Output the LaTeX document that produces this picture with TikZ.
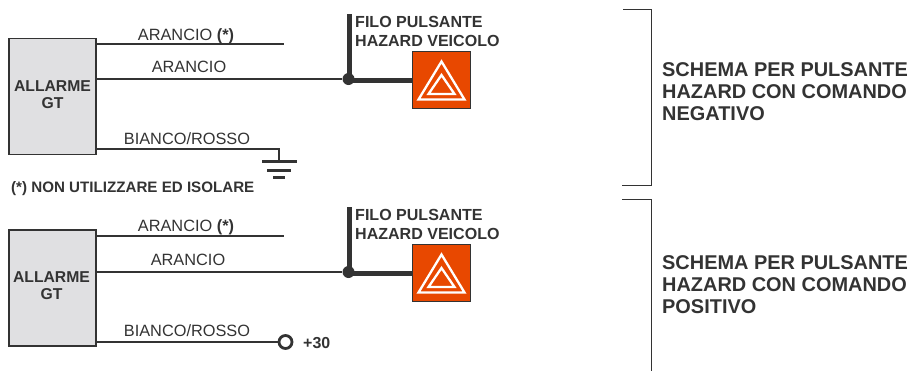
\documentclass[tikz,border=0pt]{standalone}
\usepackage{fontspec}
\setmainfont{Liberation Sans}
\definecolor{ink}{HTML}{333333}
\definecolor{alarmgrey}{HTML}{E0E0E2}
\definecolor{hazard}{HTML}{E84800}
\tikzset{
  wire/.style={draw=ink,line width=1.1bp},
  thickwire/.style={draw=ink,line width=4.2bp},
  brace/.style={draw=ink,line width=0.9bp},
  alarmbox/.style={draw=ink,line width=1.1bp,fill=alarmgrey,minimum width=87bp,minimum height=116bp,inner sep=0pt,outer sep=0pt,anchor=north west},
  boxlabel/.style={align=center,font=\fontsize{15.8}{17}\selectfont\bfseries,text=ink,inner sep=0pt},
  wirelabel/.style={font=\fontsize{16.4}{18}\selectfont,text=ink,inner sep=0pt,anchor=base},
  filolabel/.style={align=left,font=\fontsize{16.1}{19}\selectfont\bfseries,text=ink,inner sep=0pt,anchor=north west},
  schemalabel/.style={align=left,font=\fontsize{20}{22.5}\selectfont\bfseries,text=ink,inner sep=0pt,anchor=north west},
  hazbox/.style={draw=ink,line width=1bp,fill=hazard,minimum width=58bp,minimum height=57bp,inner sep=0pt,outer sep=0pt,anchor=north west},
  joint/.style={circle,fill=ink,minimum size=12bp,inner sep=0pt},
  ringend/.style={circle,draw=ink,line width=2.8bp,fill=white,minimum size=13bp,inner sep=0pt},
  tri/.style={draw=white,line width=2.3bp,miter limit=10,line join=miter},
}
\begin{document}
\begin{tikzpicture}[x=1bp,y=-1bp]
\useasboundingbox (0,0) rectangle (912,371);
% upper scheme
\node[alarmbox] (a1) at (9,38.5) {};
\node[boxlabel] (a1t) at (52.5,94.5) {ALLARME\\GT};
\coordinate (e1) at (284,44);
\coordinate (j1s) at (96,79);
\node[joint] (j1) at (348.5,79) {};
\coordinate (g1) at (279,149);
\coordinate (g1b) at (279,161);
\draw[wire] (96,44) -- (e1);
\draw[wire] (j1s) -- (j1);
\draw[wire] (96,149) -- (g1) -- (g1b);
\coordinate (g1a) at (262,161.5); \coordinate (g1c) at (297,161.5);
\coordinate (g2a) at (267,170.5); \coordinate (g2c) at (291,170.5);
\coordinate (g3a) at (273,177.5); \coordinate (g3c) at (285,177.5);
\draw[draw=ink,line width=2.6bp] (g1a) -- (g1c) (g2a) -- (g2c) (g3a) -- (g3c);
\node[wirelabel] (l1) at (186,40) {ARANCIO \textbf{(*)}};
\node[wirelabel] (l2) at (189,72) {ARANCIO};
\node[wirelabel] (l3) at (187,144) {BIANCO/ROSSO};
\node[font=\fontsize{15.2}{16}\selectfont\bfseries,text=ink,inner sep=0pt,anchor=base west] (n) at (11,192) {(*) NON UTILIZZARE ED ISOLARE};
\coordinate (v1) at (349.5,14);
\draw[thickwire] (v1) -- (v1 |- j1);
\node[filolabel] (f1) at (355,16) {FILO PULSANTE\\HAZARD VEICOLO};
\node[hazbox] (h1) at (412.5,51.5) {};
\coordinate (k1) at (348.5,80.5);
\draw[thickwire] (k1) -- (h1.west |- k1);
\draw[tri] (441.5,61.5) -- (464.5,99.5) -- (418.5,99.5) -- cycle;
\draw[tri] (441.5,75) -- (454.5,94) -- (428.5,94) -- cycle;
\draw[brace] (623,9) -- (651,9) -- (651,185) -- (622,185);
\node[schemalabel] (s1) at (662,62) {SCHEMA PER PULSANTE\\HAZARD CON COMANDO\\NEGATIVO};
% lower scheme
\node[alarmbox] (a2) at (9,230) {};
\node[boxlabel] (a2t) at (51.5,286) {ALLARME\\GT};
\coordinate (e2) at (284,236);
\node[joint] (j2) at (348.5,272) {};
\draw[wire] (96,236) -- (e2);
\draw[wire] (96,272) -- (j2);
\node[ringend] (r) at (285.5,342) {};
\draw[wire] (96,342) -- (r);
\node[font=\fontsize{16}{17}\selectfont\bfseries,text=ink,inner sep=0pt,anchor=base west] (p30) at (303,348) {+30};
\node[wirelabel] (l4) at (186,231) {ARANCIO \textbf{(*)}};
\node[wirelabel] (l5) at (188,265) {ARANCIO};
\node[wirelabel] (l6) at (187,336) {BIANCO/ROSSO};
\coordinate (v2) at (349.5,207);
\draw[thickwire] (v2) -- (v2 |- j2);
\node[filolabel] (f2) at (355,209) {FILO PULSANTE\\HAZARD VEICOLO};
\node[hazbox] (h2) at (412.5,244) {};
\coordinate (k2) at (348.5,273.5);
\draw[thickwire] (k2) -- (h2.west |- k2);
\draw[tri] (441.5,254.5) -- (464.5,292.5) -- (418.5,292.5) -- cycle;
\draw[tri] (441.5,268) -- (454.5,287) -- (428.5,287) -- cycle;
\coordinate (b2) at (651,371);
\draw[brace] (622,199) -- (651,199) -- (b2);
\node[schemalabel] (s2) at (662,255) {SCHEMA PER PULSANTE\\HAZARD CON COMANDO\\POSITIVO};
\end{tikzpicture}
\end{document}
